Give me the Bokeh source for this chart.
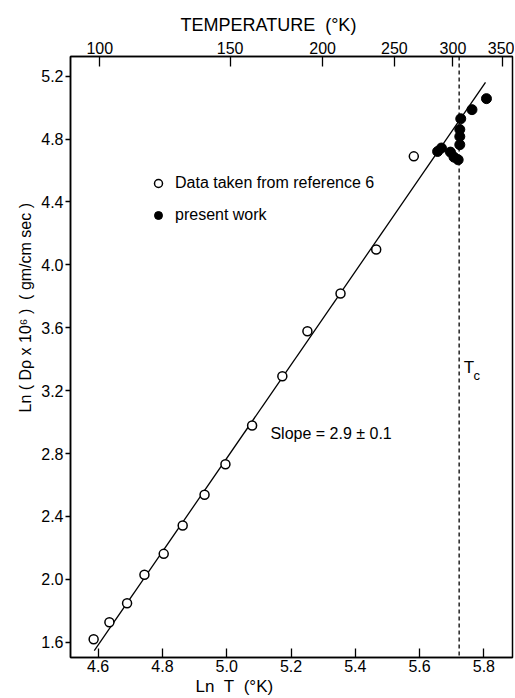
import math
from bokeh.plotting import figure
from bokeh.models import (LinearAxis, FixedTicker, Span, Label, Legend, LegendItem,
                          PrintfTickFormatter, Title)
from bokeh.embed import file_html
from bokeh.resources import INLINE

FONT = "Liberation Sans"

# data
ref6_lnT = [4.586, 4.635, 4.690, 4.744, 4.804, 4.863, 4.931, 4.996,
            5.079, 5.173, 5.251, 5.354, 5.465, 5.582]
ref6_lnD = [1.619, 1.727, 1.848, 2.029, 2.162, 2.342, 2.538, 2.732,
            2.978, 3.292, 3.578, 3.818, 4.098, 4.690]
present_lnT = [5.656, 5.668, 5.696, 5.707, 5.720, 5.725, 5.725, 5.725,
               5.728, 5.763, 5.808]
present_lnD = [4.721, 4.743, 4.717, 4.685, 4.668, 4.764, 4.816, 4.861,
               4.929, 4.987, 5.057]
fit_lnT = [4.588, 5.805]
fit_lnD = [1.547, 5.160]
Tc_lnT = 5.723
x_ticks = [4.6, 4.8, 5.0, 5.2, 5.4, 5.6, 5.8]
y_ticks = [1.6, 2.0, 2.4, 2.8, 3.2, 3.6, 4.0, 4.4, 4.8, 5.2]
temp_ticks = [100, 150, 200, 250, 300, 350]

p = figure(width=514, height=698, x_range=(4.514, 5.889), y_range=(1.503, 5.325),
           output_backend="svg", toolbar_location=None,
           min_border_left=70, min_border_right=2, min_border_top=56,
           min_border_bottom=41)
p.grid.visible = False
p.outline_line_color = "black"
p.outline_line_width = 1.5
p.background_fill_color = "white"
p.border_fill_color = "white"

def style_axis(ax, tin, tout, standoff):
    ax.major_tick_in = tin
    ax.major_tick_out = tout
    ax.minor_tick_line_color = None
    ax.major_label_standoff = standoff
    ax.major_label_text_font = FONT
    ax.major_label_text_font_size = "16px"
    ax.major_label_text_color = "black"
    ax.axis_line_width = 1.5
    ax.major_tick_line_width = 1.3

xa = p.xaxis[0]
xa.ticker = FixedTicker(ticks=x_ticks)
xa.formatter = PrintfTickFormatter(format="%.1f")
style_axis(xa, 9, 0, 2)

ya = p.yaxis[0]
ya.ticker = FixedTicker(ticks=y_ticks)
ya.formatter = PrintfTickFormatter(format="%.1f")
style_axis(ya, 0, 5, 2)

top_pos = [round(math.log(t), 4) for t in temp_ticks]
top = LinearAxis(ticker=FixedTicker(ticks=top_pos),
                 major_label_overrides={v: str(t) for v, t in zip(top_pos, temp_ticks)})
style_axis(top, 10, 0, 3)
p.add_layout(top, "above")

NB = "\u00a0"
p.add_layout(Title(text="TEMPERATURE" + NB + NB + "(\u00b0K)", align="left", offset=110,
                   text_font=FONT, text_font_size="18px", text_font_style="normal",
                   text_color="black", standoff=8), "above")
p.add_layout(Title(text="Ln" + NB + NB + "T" + NB + NB + "(\u00b0K)", align="left",
                   offset=125, text_font=FONT, text_font_size="17px",
                   text_font_style="normal", text_color="black", standoff=0), "below")
p.add_layout(Title(text="Ln ( D\u03c1 x 10\u2076 )" + NB + NB + "( gm/cm sec )",
                   align="left", offset=245, text_font=FONT, text_font_size="16px",
                   text_font_style="normal", text_color="black", standoff=10), "left")

p.line(fit_lnT, fit_lnD, line_color="black", line_width=1.3)
p.add_layout(Span(location=Tc_lnT, dimension="height", line_color="black",
                  line_width=1.3, line_dash="4 3"))

r1 = p.scatter(ref6_lnT, ref6_lnD, size=9, marker="circle", fill_color="white",
               line_color="black", line_width=1.5)
r2 = p.scatter(present_lnT, present_lnD, size=10, marker="circle",
               fill_color="black", line_color="black")

legend = Legend(items=[LegendItem(label="Data taken from reference 6", renderers=[r1]),
                       LegendItem(label="present work", renderers=[r2])],
                location=(78, 432), border_line_color=None, background_fill_alpha=0,
                padding=0, margin=0, spacing=12, label_standoff=7,
                glyph_width=20, glyph_height=20, label_text_color="black",
                label_text_font=FONT, label_text_font_size="16px")
p.add_layout(legend)

def lab(x, y, text, size="16px", **kw):
    p.add_layout(Label(x=x, y=y, text=text, text_font=FONT, text_font_size=size,
                       text_color="black", text_baseline="middle", **kw))

lab(5.136, 2.928, "Slope = 2.9 \u00b1 0.1")
lab(5.737, 3.347, "T", size="17px")
lab(5.768, 3.297, "c", size="13px")

open("out.html", "w").write(file_html(p, INLINE))
